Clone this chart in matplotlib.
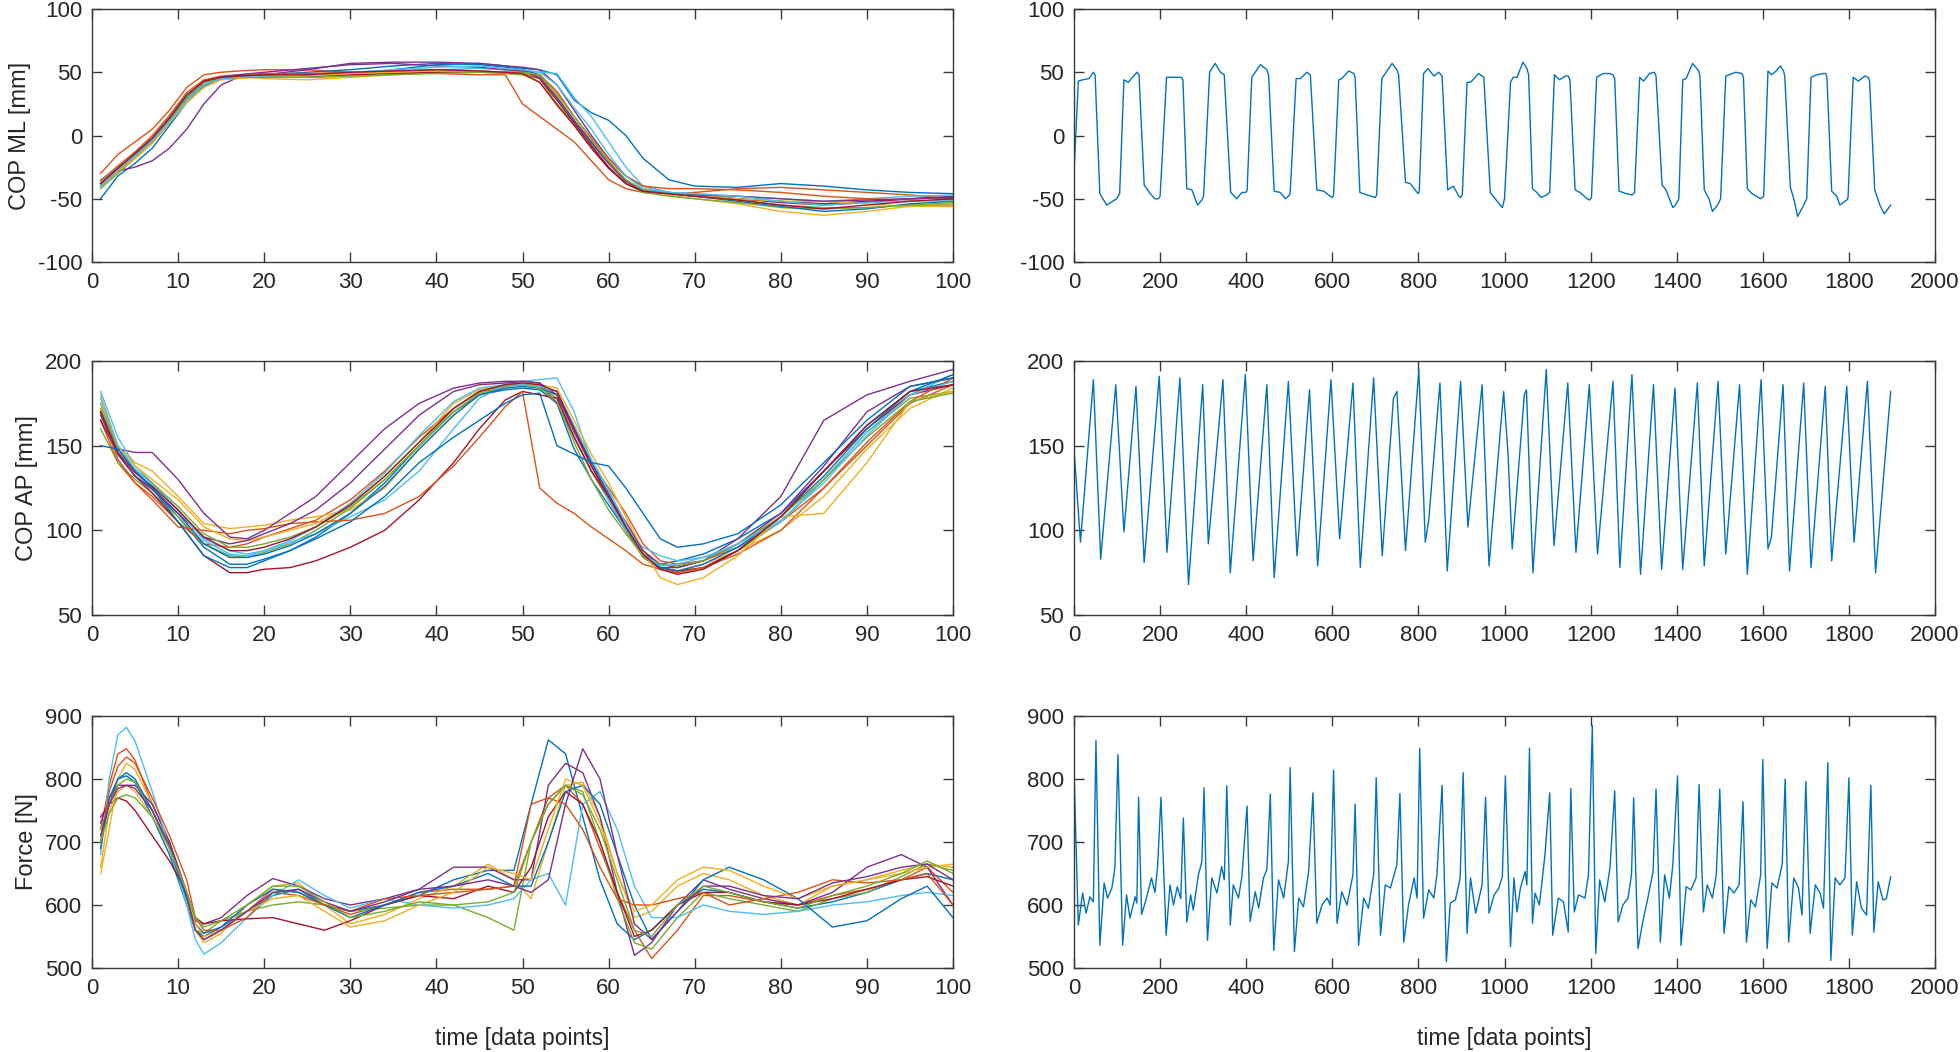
import matplotlib
matplotlib.use("Agg")
import matplotlib.pyplot as plt

plt.rcParams['font.family'] = ['Liberation Sans', 'DejaVu Sans']
plt.rcParams['axes.unicode_minus'] = False

# MATLAB default colour order
COLORS = ['#0072BD', '#D95319', '#EDB120', '#7E2F8E', '#77AC30', '#4DBEEE', '#A2142F']

# ---------------- Left top: COP ML, normalised cycles ----------------
ML_X = [1, 3, 5, 7, 9, 11, 13, 15, 17, 20, 25, 30, 35, 40, 45, 48, 50, 52, 54, 56, 58, 60, 62, 64, 67, 70, 75, 80, 85, 90, 95, 100]
ML_CURVES = [
    [-50, -32, -22, -10, 8, 26, 39, 45, 46, 47, 47, 48, 52, 56, 57, 55, 53, 52, 48, 28, 18, 12, 0, -18, -35, -40, -41, -38, -40, -43, -45, -46],
    [-30, -15, -5, 5, 20, 38, 48, 50, 51, 52, 52, 50, 50, 49, 48, 48, 25, 15, 5, -5, -20, -35, -42, -45, -46, -45, -42, -41, -43, -45, -47, -50],
    [-40, -28, -18, -5, 12, 30, 42, 46, 47, 45, 44, 46, 48, 50, 50, 49, 48, 42, 25, 8, -10, -25, -38, -44, -47, -50, -54, -60, -63, -60, -56, -54],
    [-40, -28, -25, -20, -10, 5, 25, 40, 46, 48, 52, 57, 58, 58, 57, 55, 54, 52, 40, 20, 0, -18, -32, -40, -45, -47, -50, -53, -55, -53, -50, -48],
    [-42, -30, -18, -6, 10, 28, 40, 45, 46, 46, 47, 48, 49, 50, 50, 49, 48, 45, 25, 10, -8, -25, -38, -45, -48, -50, -53, -57, -58, -57, -55, -55],
    [-35, -25, -15, -3, 12, 30, 42, 46, 47, 47, 46, 47, 50, 52, 53, 52, 51, 50, 49, 30, 15, -5, -25, -40, -45, -46, -48, -50, -52, -50, -48, -47],
    [-40, -28, -16, -4, 12, 30, 42, 46, 47, 47, 46, 48, 49, 50, 50, 50, 50, 45, 28, 10, -8, -25, -38, -44, -46, -48, -50, -52, -54, -52, -50, -49],
    [-38, -26, -15, -2, 14, 32, 43, 46, 47, 48, 50, 52, 55, 57, 56, 54, 52, 48, 30, 12, -6, -22, -36, -43, -46, -48, -52, -56, -60, -58, -54, -52],
    [-36, -24, -13, 0, 16, 34, 44, 47, 48, 49, 49, 50, 51, 52, 51, 50, 49, 48, 35, 15, -2, -18, -32, -40, -42, -42, -43, -45, -48, -50, -51, -52],
    [-40, -28, -18, -6, 10, 26, 38, 44, 45, 46, 47, 49, 50, 51, 51, 50, 50, 46, 32, 15, -3, -20, -35, -43, -46, -47, -50, -52, -52, -54, -56, -56],
    [-38, -26, -16, -4, 12, 30, 42, 46, 48, 50, 53, 56, 57, 55, 54, 52, 51, 46, 30, 12, -5, -22, -36, -44, -46, -47, -48, -50, -52, -51, -50, -49],
    [-40, -27, -16, -4, 12, 30, 42, 45, 46, 46, 46, 47, 48, 49, 50, 50, 50, 48, 33, 15, -3, -20, -35, -43, -45, -48, -51, -55, -57, -57, -55, -53],
    [-40, -27, -16, -4, 11, 28, 40, 45, 46, 47, 48, 50, 52, 54, 55, 53, 52, 50, 40, 22, 5, -15, -32, -42, -45, -46, -48, -52, -55, -53, -52, -51],
    [-38, -26, -14, -2, 14, 32, 43, 46, 47, 48, 48, 50, 51, 52, 51, 50, 49, 42, 24, 8, -10, -26, -38, -44, -46, -48, -51, -55, -58, -55, -52, -50],
]

# ---------------- Left middle: COP AP ----------------
AP_X = [1, 3, 5, 7, 10, 13, 16, 18, 20, 23, 26, 30, 34, 38, 42, 45, 48, 50, 52, 54, 56, 58, 60, 62, 64, 66, 68, 71, 75, 80, 85, 90, 95, 100]
AP_CURVES = [
    [170, 145, 132, 125, 108, 90, 80, 80, 83, 88, 96, 110, 128, 150, 170, 180, 183, 184, 183, 175, 148, 130, 115, 100, 85, 80, 82, 86, 95, 110, 135, 162, 182, 188],
    [165, 140, 128, 120, 105, 92, 90, 92, 96, 101, 106, 118, 135, 155, 172, 182, 186, 186, 185, 182, 160, 140, 125, 110, 92, 82, 80, 82, 90, 105, 125, 150, 175, 186],
    [180, 150, 140, 135, 120, 104, 101, 102, 103, 106, 108, 112, 125, 148, 168, 180, 185, 187, 186, 180, 160, 140, 120, 100, 84, 78, 76, 80, 88, 100, 120, 148, 172, 184],
    [170, 148, 146, 146, 130, 110, 96, 95, 100, 110, 120, 140, 160, 175, 184, 187, 188, 188, 187, 175, 155, 135, 118, 100, 85, 78, 78, 82, 95, 120, 165, 180, 188, 195],
    [160, 140, 130, 122, 108, 92, 85, 84, 87, 92, 100, 113, 130, 150, 170, 181, 185, 186, 185, 178, 155, 135, 118, 100, 84, 77, 75, 78, 88, 105, 130, 158, 178, 182],
    [182, 155, 138, 128, 112, 95, 88, 86, 88, 93, 98, 108, 118, 135, 160, 178, 186, 188, 189, 190, 170, 140, 118, 100, 90, 85, 82, 84, 90, 105, 130, 158, 180, 192],
    [165, 145, 132, 122, 105, 85, 75, 75, 77, 78, 82, 90, 100, 118, 140, 160, 177, 182, 180, 178, 155, 135, 120, 105, 88, 78, 76, 78, 88, 108, 135, 160, 180, 186],
    [175, 148, 135, 125, 110, 92, 84, 84, 86, 91, 98, 110, 126, 148, 168, 180, 184, 185, 184, 180, 160, 140, 122, 102, 86, 78, 76, 80, 90, 108, 132, 160, 182, 192],
    [170, 142, 128, 118, 102, 100, 98, 100, 101, 104, 105, 106, 110, 120, 138, 155, 173, 182, 125, 116, 110, 102, 95, 88, 80, 77, 75, 78, 86, 100, 125, 152, 176, 190],
    [175, 150, 138, 130, 118, 102, 95, 94, 96, 100, 104, 115, 132, 152, 175, 183, 186, 187, 186, 184, 165, 145, 128, 108, 88, 72, 68, 72, 85, 108, 110, 140, 176, 182],
    [168, 145, 132, 124, 110, 96, 92, 94, 98, 104, 112, 128, 148, 168, 182, 186, 187, 188, 187, 180, 158, 138, 120, 104, 88, 80, 78, 82, 92, 110, 138, 170, 185, 190],
    [172, 148, 136, 128, 114, 98, 90, 90, 92, 96, 102, 114, 130, 150, 172, 182, 186, 186, 184, 176, 152, 130, 112, 98, 85, 80, 79, 82, 92, 108, 130, 155, 176, 181],
    [178, 150, 136, 127, 112, 94, 86, 85, 88, 94, 102, 116, 134, 156, 176, 184, 186, 186, 185, 182, 162, 142, 124, 104, 86, 79, 80, 84, 92, 106, 128, 156, 180, 188],
    [170, 146, 134, 126, 112, 96, 88, 88, 90, 95, 102, 115, 132, 152, 172, 182, 186, 187, 186, 182, 160, 138, 120, 102, 86, 77, 74, 77, 88, 108, 135, 162, 182, 186],
    [150, 148, 135, 125, 105, 85, 78, 78, 82, 88, 95, 105, 120, 140, 155, 165, 175, 180, 181, 150, 145, 140, 138, 125, 110, 95, 90, 92, 98, 115, 140, 165, 185, 190],
]

# ---------------- Left bottom: Force ----------------
F_X = [1, 2, 3, 4, 5, 7, 9, 11, 12, 13, 15, 18, 21, 24, 27, 30, 34, 38, 42, 46, 49, 51, 53, 55, 57, 59, 61, 63, 65, 68, 71, 74, 78, 82, 86, 90, 94, 97, 100]
F_CURVES = [
    [700, 760, 800, 805, 795, 740, 680, 600, 560, 550, 565, 590, 615, 625, 600, 590, 600, 615, 640, 655, 655, 760, 862, 840, 740, 640, 570, 545, 560, 600, 625, 620, 605, 595, 605, 620, 640, 650, 640],
    [720, 790, 840, 848, 830, 760, 700, 620, 560, 545, 560, 590, 625, 620, 600, 585, 600, 620, 625, 625, 630, 700, 770, 790, 760, 690, 620, 560, 515, 560, 615, 615, 605, 600, 615, 625, 640, 660, 620],
    [650, 720, 800, 825, 815, 760, 700, 610, 560, 540, 555, 600, 630, 635, 600, 570, 585, 610, 630, 665, 640, 610, 700, 790, 795, 740, 650, 580, 590, 630, 650, 640, 615, 600, 630, 640, 655, 665, 660],
    [730, 770, 790, 790, 790, 760, 700, 620, 575, 570, 580, 615, 642, 630, 610, 600, 610, 625, 660, 660, 640, 640, 790, 825, 810, 740, 620, 520, 540, 600, 640, 625, 610, 600, 620, 660, 680, 660, 600],
    [720, 760, 790, 800, 795, 750, 690, 610, 560, 555, 575, 590, 600, 605, 600, 590, 595, 600, 600, 580, 560, 700, 760, 790, 780, 700, 610, 540, 530, 580, 620, 610, 600, 590, 610, 620, 645, 665, 655],
    [680, 800, 870, 882, 860, 780, 690, 600, 545, 522, 540, 580, 615, 640, 615, 595, 610, 600, 595, 600, 610, 640, 650, 600, 760, 780, 720, 630, 580, 580, 600, 590, 585, 590, 600, 605, 615, 620, 615],
    [740, 760, 770, 765, 750, 710, 670, 620, 580, 570, 575, 578, 580, 570, 560, 575, 600, 615, 610, 630, 620, 660, 740, 780, 760, 700, 620, 550, 560, 600, 620, 620, 605, 600, 610, 625, 640, 645, 630],
    [690, 770, 800, 810, 800, 750, 690, 610, 570, 555, 565, 600, 625, 620, 600, 580, 600, 620, 630, 650, 630, 630, 700, 780, 790, 760, 680, 600, 545, 590, 640, 660, 640, 610, 565, 575, 610, 630, 580],
    [700, 780, 820, 835, 825, 770, 710, 640, 580, 560, 560, 580, 620, 615, 600, 590, 610, 615, 620, 625, 630, 760, 770, 760, 720, 660, 610, 600, 600, 610, 620, 600, 610, 620, 640, 635, 640, 650, 600],
    [660, 750, 780, 790, 780, 740, 690, 620, 570, 550, 560, 590, 610, 615, 590, 565, 575, 600, 620, 660, 650, 640, 720, 800, 790, 730, 650, 590, 600, 640, 660, 655, 630, 610, 630, 640, 650, 660, 665],
    [710, 760, 785, 790, 785, 750, 695, 615, 560, 545, 560, 590, 620, 625, 605, 590, 605, 625, 630, 640, 630, 620, 640, 760, 848, 800, 680, 570, 545, 590, 630, 630, 615, 610, 635, 645, 660, 665, 640],
    [700, 745, 770, 775, 770, 740, 690, 620, 580, 565, 575, 600, 630, 630, 605, 580, 590, 605, 600, 605, 620, 700, 760, 790, 775, 720, 640, 560, 550, 600, 630, 620, 605, 595, 615, 630, 650, 670, 650],
]

# ---------------- Right panels: continuous recordings ----------------
ML_R_T = [0, 10, 20, 35, 45, 49, 60, 76, 99, 106, 116, 126, 146, 151, 163, 177, 188, 196, 200, 215, 250, 253, 262, 274, 287, 297, 301, 315, 328, 340, 349, 364, 378, 390, 398, 402, 413, 433, 448, 452, 465, 479, 491, 498, 502, 516, 526, 541, 549, 564, 580, 595, 600, 603, 615, 622, 638, 650, 653, 664, 681, 700, 703, 715, 739, 750, 754, 770, 781, 797, 800, 802, 812, 822, 836, 847, 855, 868, 881, 894, 898, 902, 913, 921, 940, 952, 967, 983, 995, 1000, 1014, 1020, 1029, 1043, 1052, 1056, 1065, 1075, 1085, 1098, 1105, 1116, 1128, 1141, 1148, 1152, 1164, 1175, 1192, 1198, 1202, 1214, 1229, 1245, 1252, 1256, 1266, 1283, 1297, 1302, 1314, 1323, 1337, 1348, 1352, 1366, 1375, 1391, 1397, 1405, 1414, 1422, 1437, 1451, 1454, 1464, 1475, 1483, 1495, 1502, 1514, 1537, 1552, 1555, 1564, 1575, 1595, 1602, 1612, 1620, 1631, 1641, 1648, 1651, 1664, 1672, 1681, 1695, 1702, 1712, 1725, 1741, 1746, 1749, 1760, 1772, 1779, 1795, 1798, 1810, 1822, 1837, 1845, 1848, 1860, 1872, 1882, 1897]
ML_R_V = [-30, 43, 44, 45, 50, 48, -46, -55, -50, -46, 44, 42, 50, 48, -39, -46, -50, -50, -48, 46, 46, 44, -42, -43, -55, -51, -48, 50, 57, 50, 48, -45, -50, -45, -45, -44, 46, 56, 52, 48, -44, -45, -50, -48, -46, 45, 45, 50, 48, -43, -44, -48, -49, -47, 44, 45, 51, 49, 46, -45, -47, -49, -47, 45, 57, 52, 48, -37, -38, -45, -46, -44, 49, 53, 47, 50, 47, -43, -40, -48, -49, -47, 42, 42, 49, 46, -45, -52, -57, -50, 42, 46, 46, 58, 53, 48, -42, -45, -49, -47, -45, 48, 44, 47, 47, 44, -43, -45, -50, -51, -49, 46, 49, 49, 48, 45, -44, -46, -47, -45, 46, 43, 49, 50, 47, -39, -43, -57, -55, -50, 44, 45, 57, 51, 47, -43, -50, -60, -55, -50, 47, 50, 49, 46, -42, -46, -50, -48, 51, 48, 51, 55, 51, 47, -41, -50, -64, -55, -50, 46, 48, 49, 49, 46, -44, -48, -55, -51, -49, 46, 43, 47, 46, 43, -43, -55, -62, -55]

AP_R_T = [0, 15, 45, 62, 97, 116, 144, 163, 198, 216, 246, 266, 299, 312, 346, 363, 398, 416, 448, 465, 498, 518, 547, 566, 597, 617, 648, 665, 696, 716, 742, 750, 770, 801, 816, 824, 850, 867, 898, 915, 948, 964, 998, 1008, 1018, 1046, 1051, 1066, 1097, 1115, 1147, 1166, 1197, 1216, 1252, 1268, 1296, 1316, 1346, 1365, 1396, 1414, 1448, 1464, 1496, 1514, 1546, 1564, 1596, 1612, 1620, 1647, 1662, 1695, 1712, 1745, 1760, 1795, 1812, 1843, 1862, 1897]
AP_R_V = [148, 93, 189, 83, 186, 99, 185, 81, 191, 87, 190, 68, 186, 92, 189, 75, 192, 82, 186, 72, 188, 85, 183, 79, 189, 95, 187, 78, 190, 85, 178, 182, 88, 195, 93, 106, 187, 76, 188, 102, 186, 79, 182, 146, 89, 180, 183, 75, 195, 91, 187, 87, 186, 86, 188, 78, 192, 74, 186, 77, 184, 77, 187, 79, 188, 86, 186, 74, 189, 89, 96, 186, 76, 187, 78, 185, 82, 185, 93, 188, 75, 182]

F_R_T = [0, 10, 20, 28, 37, 45, 51, 60, 70, 78, 88, 95, 102, 113, 122, 130, 142, 146, 150, 157, 167, 180, 188, 194, 202, 214, 223, 231, 240, 248, 254, 262, 271, 277, 289, 297, 302, 310, 320, 332, 343, 349, 355, 363, 370, 382, 390, 402, 409, 421, 429, 440, 448, 456, 464, 475, 487, 498, 502, 512, 522, 533, 545, 555, 564, 576, 588, 595, 603, 611, 622, 634, 648, 653, 661, 673, 684, 696, 702, 712, 723, 735, 750, 757, 766, 777, 790, 797, 803, 812, 824, 836, 843, 855, 865, 874, 886, 897, 904, 913, 921, 933, 948, 956, 964, 976, 987, 995, 1002, 1014, 1022, 1029, 1037, 1048, 1052, 1058, 1065, 1071, 1081, 1094, 1105, 1112, 1125, 1137, 1148, 1154, 1162, 1172, 1187, 1195, 1204, 1212, 1221, 1233, 1245, 1256, 1264, 1275, 1287, 1295, 1300, 1310, 1322, 1333, 1345, 1352, 1362, 1372, 1383, 1391, 1402, 1410, 1422, 1433, 1445, 1452, 1462, 1471, 1483, 1492, 1500, 1510, 1521, 1533, 1545, 1554, 1562, 1572, 1583, 1595, 1600, 1610, 1621, 1633, 1645, 1652, 1660, 1672, 1683, 1691, 1700, 1710, 1722, 1733, 1741, 1751, 1758, 1768, 1779, 1791, 1800, 1808, 1818, 1829, 1841, 1851, 1858, 1868, 1879, 1887, 1897]
F_R_V = [815, 568, 619, 587, 613, 605, 861, 536, 635, 611, 627, 659, 839, 536, 616, 579, 613, 603, 771, 585, 608, 643, 620, 659, 771, 552, 632, 600, 629, 610, 738, 573, 616, 592, 648, 669, 786, 544, 643, 619, 661, 640, 789, 568, 632, 611, 645, 757, 574, 621, 595, 643, 656, 776, 528, 640, 611, 669, 818, 526, 611, 597, 653, 778, 571, 600, 611, 600, 814, 571, 621, 600, 648, 760, 536, 611, 595, 648, 802, 552, 632, 627, 664, 777, 541, 600, 643, 611, 849, 579, 624, 611, 648, 790, 510, 603, 608, 643, 810, 555, 643, 587, 632, 771, 587, 616, 627, 645, 805, 534, 643, 589, 627, 653, 632, 849, 571, 619, 600, 680, 778, 552, 611, 605, 557, 785, 589, 616, 611, 648, 885, 523, 640, 605, 659, 781, 573, 600, 611, 648, 770, 531, 576, 611, 653, 784, 541, 648, 611, 664, 805, 536, 629, 624, 643, 791, 589, 632, 611, 648, 784, 555, 629, 619, 632, 764, 541, 608, 597, 648, 831, 531, 635, 627, 664, 800, 541, 643, 627, 584, 796, 555, 632, 619, 595, 826, 512, 643, 632, 643, 802, 552, 637, 595, 584, 790, 557, 637, 608, 610, 645]

Y_LABELS = ['COP ML [mm]', 'COP AP [mm]', 'Force [N]']
X_LABEL = 'time [data points]'
Y_LIMS = [(-100, 100), (50, 200), (500, 900)]
Y_STEPS = [50, 50, 100]

W, H = 1960, 1052
fig = plt.figure(figsize=(W / 100, H / 100), dpi=100)

left_x0, right_x0, ax_w = 92, 1074, 861
rows = [(9, 262), (361, 615), (716, 968)]

TXT = '#262626'
SPINE = '#3a3a3a'

def style(ax, xlim, xticks, ylim, yticks):
    ax.set_xlim(*xlim)
    ax.set_ylim(*ylim)
    ax.set_xticks(xticks)
    ax.set_yticks(yticks)
    ax.tick_params(direction='in', top=True, right=True, length=7, width=1.0,
                   labelsize=16, labelcolor=TXT, color=SPINE, pad=7)
    for s in ax.spines.values():
        s.set_color(SPINE)
        s.set_linewidth(1.0)

left_data = [(ML_X, ML_CURVES), (AP_X, AP_CURVES), (F_X, F_CURVES)]
right_data = [(ML_R_T, ML_R_V), (AP_R_T, AP_R_V), (F_R_T, F_R_V)]

for i, (top, bot) in enumerate(rows):
    b = 1 - bot / H
    h = (bot - top) / H
    lo, hi = Y_LIMS[i]
    yt = list(range(lo, hi + 1, Y_STEPS[i]))

    axl = fig.add_axes([left_x0 / W, b, ax_w / W, h])
    xs, curves = left_data[i]
    for k, c in enumerate(curves):
        axl.plot(xs, c, color=COLORS[k % len(COLORS)], lw=1.0)
    style(axl, (0, 100), list(range(0, 101, 10)), (lo, hi), yt)
    axl.set_ylabel(Y_LABELS[i], fontsize=17, color=TXT, labelpad=5)

    axr = fig.add_axes([right_x0 / W, b, ax_w / W, h])
    t, v = right_data[i]
    axr.plot(t, v, color=COLORS[0], lw=1.0)
    style(axr, (0, 2000), list(range(0, 2001, 200)), (lo, hi), yt)

    if i == 2:
        axl.set_xlabel(X_LABEL, fontsize=16.5, color=TXT, labelpad=20)
        axr.set_xlabel(X_LABEL, fontsize=16.5, color=TXT, labelpad=20)

fig.savefig('out.png', dpi=100, facecolor='white')
